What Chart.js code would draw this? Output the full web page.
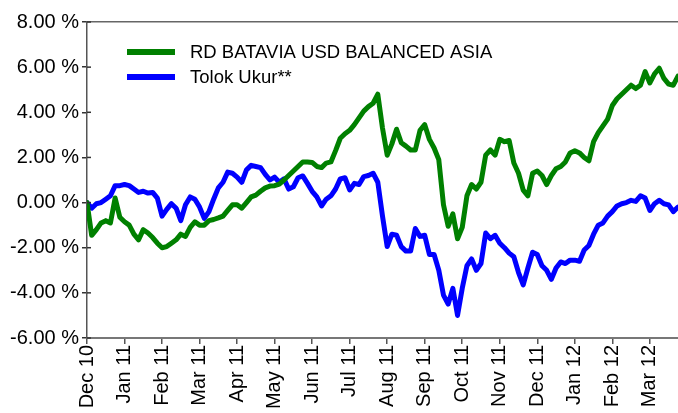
<!DOCTYPE html>
<html>
<head>
<meta charset="utf-8">
<script src="https://cdn.jsdelivr.net/npm/chart.js@4/dist/chart.umd.min.js"></script>
<style>
html,body{margin:0;padding:0;background:#fff;}
#wrap{width:678px;height:413px;position:relative;}
</style>
</head>
<body>
<div id="wrap"><canvas id="c"></canvas></div>
<script>
// Month tick labels (one tick per month)
const monthLabels = ["Dec 10","Jan 11","Feb 11","Mar 11","Apr 11","May 11","Jun 11","Jul 11","Aug 11","Sep 11","Oct 11","Nov 11","Dec 11","Jan 12","Feb 12","Mar 12"];
const pointsPerMonth = 8;
const seriesNames = ["RD BATAVIA USD BALANCED ASIA", "Tolok Ukur**"];
// cumulative return (%) sampled 8 times per month
const fundValues = [
 0.0,-1.45,-1.2,-0.9,-0.8,-0.9,0.2,-0.65,-0.85,-1.0,
 -1.4,-1.65,-1.2,-1.35,-1.55,-1.8,-2.0,-1.95,-1.8,-1.65,
 -1.4,-1.5,-1.1,-0.85,-1.0,-1.0,-0.8,-0.75,-0.68,-0.6,
 -0.35,-0.1,-0.1,-0.25,0.0,0.25,0.33,0.5,0.65,0.73,
 0.75,0.82,1.0,1.2,1.4,1.6,1.8,1.8,1.78,1.6,
 1.55,1.75,1.8,2.3,2.85,3.05,3.2,3.45,3.75,4.05,
 4.25,4.4,4.8,3.3,2.1,2.6,3.25,2.65,2.5,2.33,
 2.33,3.2,3.45,2.8,2.42,1.9,-0.1,-1.05,-0.5,-1.6,
 -1.1,0.3,0.8,0.6,0.9,2.1,2.33,2.1,2.8,2.7,
 2.75,1.75,1.3,0.55,0.3,1.3,1.4,1.2,0.8,1.2,
 1.5,1.6,1.8,2.2,2.3,2.2,2.0,1.85,2.7,3.1,
 3.4,3.7,4.3,4.6,4.8,5.0,5.2,5.05,5.2,5.8,
 5.3,5.7,5.95,5.5,5.25,5.2,5.6
];
const benchmarkValues = [
 0.0,-0.25,-0.05,0.0,0.15,0.3,0.75,0.75,0.8,0.75,
 0.6,0.45,0.5,0.42,0.45,0.2,-0.6,-0.3,-0.05,-0.25,
 -0.8,-0.1,0.25,0.15,-0.2,-0.7,-0.4,0.15,0.65,0.9,
 1.35,1.3,1.13,0.9,1.45,1.65,1.6,1.55,1.25,1.0,
 1.13,0.9,1.05,0.6,0.7,1.1,1.18,0.85,0.5,0.25,
 -0.15,0.15,0.3,0.6,1.05,1.1,0.56,0.85,0.8,1.15,
 1.2,1.3,0.9,-0.6,-1.95,-1.4,-1.45,-1.95,-2.15,-2.15,
 -1.15,-1.5,-1.45,-2.3,-2.3,-3.0,-4.1,-4.5,-3.8,-5.0,
 -3.8,-2.8,-2.5,-3.0,-2.7,-1.35,-1.6,-1.45,-1.8,-2.0,
 -2.24,-2.4,-3.1,-3.65,-2.9,-2.2,-2.3,-2.8,-3.0,-3.4,
 -2.9,-2.63,-2.7,-2.55,-2.55,-2.6,-2.1,-1.9,-1.4,-1.0,
 -0.9,-0.6,-0.4,-0.15,-0.05,0.0,0.1,0.05,0.3,0.2,
 -0.35,-0.05,0.1,-0.05,-0.1,-0.4,-0.2
];
const yTicks = [-6,-4,-2,0,2,4,6,8];
const seriesColors = ["#008000","#0000ff"];

const toPoints = arr => arr.map((v,i)=>({x:i/pointsPerMonth, y:v}));
const xMax = (fundValues.length-1)/pointsPerMonth;
const FONT = "'Liberation Sans', Arial, sans-serif";

const legendPlugin = {
  id:'insideLegend',
  afterDatasetsDraw(chart){
    const ctx = chart.ctx;
    const a = chart.chartArea;
    ctx.save();
    chart.data.datasets.forEach((ds,k)=>{
      const y = a.top + 30 + k*25;
      const x0 = a.left + 40;
      ctx.strokeStyle = ds.borderColor;
      ctx.lineWidth = 6;
      ctx.beginPath(); ctx.moveTo(x0,y); ctx.lineTo(x0+48,y); ctx.stroke();
      ctx.fillStyle = '#000';
      ctx.font = "18.5px " + FONT;
      ctx.textBaseline = 'middle';
      ctx.textAlign = 'left';
      ctx.fillText(ds.label, x0+63, y+1);
    });
    // inner half of the y tick marks (ticks cross the axis)
    const ys = chart.scales.y;
    ctx.strokeStyle = '#333'; ctx.lineWidth = 1.5;
    ys.ticks.forEach(t=>{
      const py = ys.getPixelForValue(t.value);
      ctx.beginPath(); ctx.moveTo(a.left, py); ctx.lineTo(a.left+4, py); ctx.stroke();
    });
    ctx.restore();
  }
};

new Chart(document.getElementById('c'), {
  type:'line',
  data:{
    datasets:[
      {label:seriesNames[0], data:toPoints(fundValues), borderColor:seriesColors[0], backgroundColor:seriesColors[0], borderWidth:5, pointRadius:0, tension:0, borderJoinStyle:'round', borderCapStyle:'round'},
      {label:seriesNames[1], data:toPoints(benchmarkValues), borderColor:seriesColors[1], backgroundColor:seriesColors[1], borderWidth:5, pointRadius:0, tension:0, borderJoinStyle:'round', borderCapStyle:'round'}
    ]
  },
  options:{
    responsive:true, maintainAspectRatio:false, animation:false,
    layout:{padding:{top:22,right:0,left:0,bottom:0}},
    plugins:{legend:{display:false}, tooltip:{enabled:false}},
    scales:{
      x:{
        type:'linear', min:0, max:xMax,
        afterFit(s){ s.height = 75; },
        ticks:{stepSize:1, autoSkip:false, maxRotation:90, minRotation:90, padding:1, color:'#000',
          font:{family:FONT, size:20},
          callback:(v)=> Number.isInteger(v) && monthLabels[v] !== undefined ? monthLabels[v] : ''},
        afterBuildTicks(s){ s.ticks = monthLabels.map((_,i)=>({value:i})); },
        grid:{drawOnChartArea:false, tickLength:6, color:'#555', lineWidth:1.5},
        border:{display:true, color:'#777', width:2}
      },
      xTop:{
        type:'linear', position:'top', min:0, max:xMax,
        afterFit(s){ s.height = 0; },
        ticks:{display:false}, grid:{display:false},
        border:{display:true, color:'#666', width:1.5}
      },
      y:{
        min:-6, max:8,
        afterFit(s){ s.width = 87; },
        afterBuildTicks(s){ s.ticks = yTicks.map(v=>({value:v})); },
        ticks:{stepSize:2, padding:3, color:'#000', font:{family:FONT, size:20},
          callback:(v)=> v.toFixed(2)+' %'},
        grid:{drawOnChartArea:false, tickLength:5, color:'#333', lineWidth:1.5},
        border:{display:true, color:'#555', width:1.5}
      }
    }
  },
  plugins:[legendPlugin]
});
</script>
</body>
</html>
